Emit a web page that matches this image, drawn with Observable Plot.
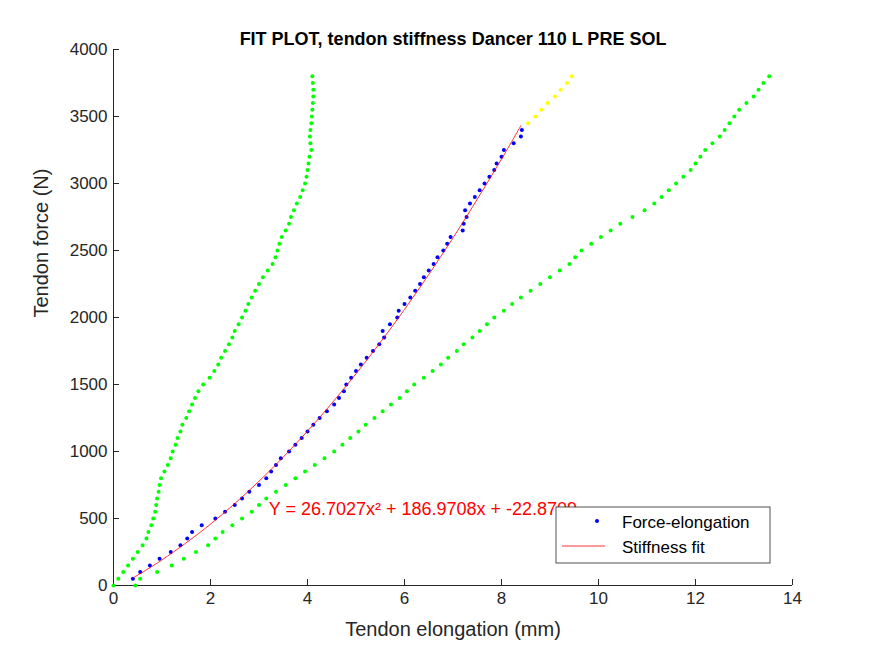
<!DOCTYPE html>
<html><head><meta charset="utf-8">
<script src="https://cdn.jsdelivr.net/npm/d3@7"></script>
<script src="https://cdn.jsdelivr.net/npm/@observablehq/plot@0.6"></script>
<style>body{margin:0;background:#fff;font-family:Arial,"Liberation Sans",sans-serif}</style>
</head><body><div id="c"></div>
<script>
const title = "FIT PLOT, tendon stiffness Dancer 110 L PRE SOL";
const xLabel = "Tendon elongation (mm)";
const yLabel = "Tendon force (N)";
const equation = "Y = 26.7027x² + 186.9708x + -22.8709";
const xTicks = [0,2,4,6,8,10,12,14];
const yTicks = [0,500,1000,1500,2000,2500,3000,3500,4000];

const greenForce = d3.range(0, 3801, 50);
const greenLeftX = [0.0,0.1,0.2,0.3,0.4,0.5,0.6,0.68,0.72,0.78,0.82,0.86,0.88,0.9,0.93,0.95,0.98,1.05,1.12,1.18,1.22,1.28,1.32,1.38,1.42,1.5,1.56,1.62,1.68,1.75,1.85,1.98,2.08,2.16,2.22,2.3,2.38,2.45,2.5,2.58,2.65,2.72,2.78,2.85,2.92,3.0,3.08,3.18,3.28,3.34,3.38,3.42,3.47,3.55,3.62,3.66,3.72,3.78,3.85,3.9,3.95,3.98,4.0,4.02,4.04,4.08,4.06,4.05,4.06,4.08,4.09,4.1,4.11,4.12,4.12,4.11,4.1];
const greenRightX = [0.45,0.55,0.9,1.2,1.45,1.7,1.95,2.1,2.25,2.45,2.65,2.85,3.0,3.15,3.35,3.55,3.75,3.95,4.15,4.35,4.55,4.72,4.88,5.05,5.2,5.38,5.55,5.72,5.9,6.05,6.2,6.4,6.58,6.75,6.9,7.08,7.22,7.4,7.55,7.7,7.85,8.05,8.22,8.4,8.6,8.8,9.0,9.2,9.4,9.52,9.65,9.85,10.05,10.25,10.45,10.7,10.95,11.15,11.3,11.45,11.6,11.75,11.9,12.0,12.1,12.2,12.35,12.5,12.6,12.7,12.8,12.9,13.05,13.2,13.3,13.4,13.52];

const blueForce = d3.range(50, 3401, 50);
const blueX = [0.40,0.55,0.75,0.95,1.18,1.38,1.52,1.62,1.82,2.10,2.30,2.50,2.65,2.80,3.00,3.15,3.25,3.35,3.45,3.62,3.75,3.88,4.00,4.12,4.25,4.40,4.55,4.65,4.75,4.80,4.90,5.00,5.10,5.22,5.35,5.48,5.58,5.55,5.70,5.85,5.88,6.00,6.12,6.22,6.32,6.40,6.50,6.60,6.68,6.80,6.88,6.95,7.20,7.22,7.28,7.25,7.35,7.45,7.55,7.65,7.75,7.85,7.90,8.00,8.05,8.25,8.40,8.42];

const yellowForce = [3450,3500,3550,3600,3650,3700,3750,3800];
const yellowX = [8.55,8.7,8.82,8.95,9.1,9.22,9.35,9.45];

const fitX = [0.4,1,2,3,4,5,6,7,8,8.4];
const fitY = [56,191,458,778,1152,1580,2060,2594,3182,3432];

const gl = greenForce.map((f,i)=>({x:greenLeftX[i],y:f}));
const gr = greenForce.map((f,i)=>({x:greenRightX[i],y:f}));
const bl = blueForce.map((f,i)=>({x:blueX[i],y:f}));
const ye = yellowForce.map((f,i)=>({x:yellowX[i],y:f}));
const fit = fitX.map((x,i)=>({x,y:fitY[i]}));

const plot = Plot.plot({
  width: 875, height: 656,
  marginLeft: 113, marginRight: 83, marginTop: 49, marginBottom: 71,
  style: {fontFamily: "Arial, 'Liberation Sans', sans-serif", fontSize: "17px", color: "#262626", background: "#fff"},
  x: {domain: [0,14], ticks: xTicks, label: null},
  y: {domain: [0,4000], ticks: yTicks, label: null},
  marks: [
    Plot.axisX({ticks: xTicks, tickFormat: d3.format("d"), tickSize: -6, tickPadding: 12, fontSize: 17, stroke: "#262626", fill: "#262626"}),
    Plot.axisY({ticks: yTicks, tickFormat: d3.format("d"), tickSize: -6, tickPadding: 12, fontSize: 17, stroke: "#262626", fill: "#262626"}),
    Plot.ruleY([0], {stroke: "#262626"}),
    Plot.ruleX([0], {stroke: "#262626"}),
    Plot.dot(gl, {x:"x", y:"y", r:2, fill:"#00ff00", stroke:null}),
    Plot.dot(gr, {x:"x", y:"y", r:2, fill:"#00ff00", stroke:null}),
    Plot.dot(ye, {x:"x", y:"y", r:2, fill:"#ffff00", stroke:null}),
    Plot.dot(bl, {x:"x", y:"y", r:2, fill:"#0000ff", stroke:null}),
    Plot.line(fit, {x:"x", y:"y", stroke:"#ff0000", strokeWidth:0.8, curve:"catmull-rom"}),
    Plot.text([equation], {x:3.2, y:570, text:d=>d, textAnchor:"start", fill:"#ff0000", fontSize:18}),
    Plot.text([title], {frameAnchor:"top", dy:-17, text:d=>d, fontWeight:"bold", fontSize:18, fill:"#000"}),
    Plot.text([xLabel], {frameAnchor:"bottom", dy:50, text:d=>d, fontSize:20, fill:"#262626"}),
    Plot.text([yLabel], {frameAnchor:"left", dx:-72, rotate:-90, text:d=>d, fontSize:20, fill:"#262626"})
  ]
});
document.getElementById("c").appendChild(plot);

const svg = d3.select(plot);
const g = svg.append("g").attr("font-size", 17).attr("fill", "#000").attr("text-anchor", "start");
g.append("rect").attr("x",556).attr("y",507).attr("width",214).attr("height",56).attr("fill","#fff").attr("stroke","#262626").attr("stroke-width",0.8);
g.append("circle").attr("cx",597).attr("cy",521).attr("r",2).attr("fill","#0000ff");
g.append("line").attr("x1",562).attr("x2",605).attr("y1",546).attr("y2",546).attr("stroke","#ff0000").attr("stroke-width",0.8);
g.append("text").attr("x",622).attr("y",528).text("Force-elongation");
g.append("text").attr("x",622).attr("y",553).text("Stiffness fit");
</script></body></html>
